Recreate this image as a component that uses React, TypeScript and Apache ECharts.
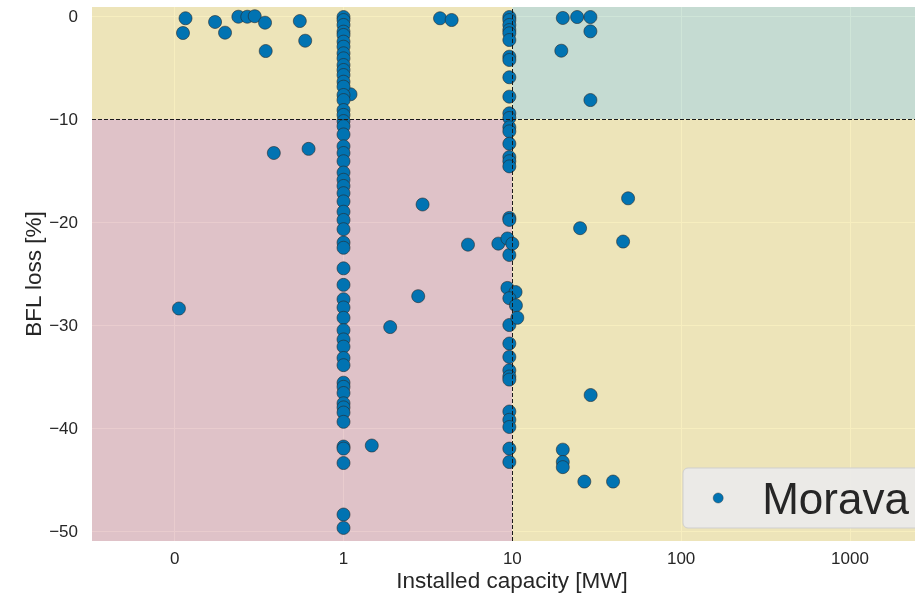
import React, { useEffect, useRef } from "react";
import * as echarts from "echarts";

// ---------- data ----------
const seriesName = "Morava";
const xTickValues = [0, 1, 10, 100, 1000];
const xTickLabels = ["0", "1", "10", "100", "1000"];
const yTickValues = [0, -10, -20, -30, -40, -50];
const capacityThreshold = 10;
const lossThreshold = -10;

// plants outside the two dense columns
const scatteredCapacity = [
  0.064, 0.049, 0.239, 0.298, 0.377, 0.43, 0.474, 0.535, 0.539, 0.741, 0.773,
  3.73, 4.37, 1.1, 19.9, 24.2, 29.0, 29.0, 19.5, 29.0,
  0.587, 0.793, 0.025, 2.94, 5.46, 8.26, 2.77, 1.89, 1.47,
  48.5, 25.2, 45.3, 29.1, 19.9, 19.9, 19.9, 26.7, 39.5,
];
const scatteredLoss = [
  -0.22, -1.65, -0.58, -1.62, -0.07, -0.07, -0.02, -0.65, -3.4, -0.49, -2.4,
  -0.22, -0.39, -7.6, -0.19, -0.1, -0.1, -1.49, -3.37, -8.16,
  -13.3, -12.9, -28.4, -18.3, -22.2, -22.1, -27.2, -30.2, -41.7,
  -17.7, -20.6, -21.9, -36.8, -42.1, -43.3, -43.8, -45.2, -45.2,
];

// plants of 1 MW
const oneMWLoss = [
  -0.1, -0.39, -0.87, -1.52, -1.84, -2.49, -2.98, -3.62, -4.11, -4.76, -5.24,
  -5.73, -6.38, -6.86, -7.67, -8.16, -9.13, -9.6, -10.2, -10.7, -11.5, -12.65,
  -13.3, -14.1, -15.2, -15.9, -16.5, -17.2, -18.0, -19.0, -19.8, -20.7, -22.0,
  -22.5, -24.5, -26.1, -27.5, -28.3, -29.3, -30.5, -31.4, -32.1, -33.2, -33.9,
  -35.6, -36.0, -36.6, -37.6, -38.0, -38.5, -39.4, -41.8, -42.0, -43.4, -48.4,
  -49.7,
];

// plants of about 10 MW
const tenMWCapacity = [
  9.6, 9.6, 9.6, 9.6, 9.6, 9.6, 9.6, 9.6, 9.6, 9.6, 9.6, 9.6, 9.6, 9.6, 9.6,
  9.6, 9.6, 9.6, 9.6, 9.6, 9.6, 9.6, 9.6, 9.6, 9.6, 9.6, 9.6, 9.6, 9.6, 9.6,
  9.6, 9.6, 9.35, 10.0, 9.35, 10.45, 9.6, 10.5, 10.7,
];
const tenMWLoss = [
  -0.1, -0.39, -0.87, -1.36, -1.68, -2.33, -3.95, -4.27, -5.95, -7.83, -9.45,
  -9.9, -10.8, -11.2, -12.4, -13.7, -14.1, -14.6, -19.6, -19.8, -23.2, -30.0,
  -31.8, -33.1, -34.4, -35.0, -35.3, -38.4, -39.2, -39.9, -42.0, -43.3,
  -21.6, -22.1, -26.4, -26.8, -27.4, -28.1, -29.3,
];

// ---------- symlog-like transform (linear 0..1, log10 above) ----------
const sym = (x: number) => (x <= 1 ? x : 1 + Math.log10(x));

const X_MIN = -0.49;
const X_MAX = 4.486;
const Y_MIN = -50.97;
const Y_MAX = 0.874;

const FONT = "'Liberation Sans', Arial, sans-serif";
const TEXT = "#262626";

const fmtNum = (v: number) => (v < 0 ? "\u2212" + Math.abs(v) : String(v));

export default function App() {
  const ref = useRef<HTMLDivElement>(null);
  useEffect(() => {
    if (!ref.current) return;
    const chart = echarts.init(ref.current, null, { renderer: "svg" });

    const points: number[][] = [];
    scatteredCapacity.forEach((c, i) => points.push([sym(c), scatteredLoss[i]]));
    oneMWLoss.forEach((l) => points.push([sym(1), l]));
    tenMWCapacity.forEach((c, i) => points.push([sym(c), tenMWLoss[i]]));

    const xT = sym(capacityThreshold);
    const xCustom = xTickValues.map(sym);

    chart.setOption({
      animation: false,
      textStyle: { fontFamily: FONT },
      grid: {
        left: 92,
        right: 0,
        top: 7,
        bottom: 57,
        outerBoundsMode: "none",
        containLabel: false,
        show: true,
        backgroundColor: "#eaeaf2",
        borderWidth: 0,
      },
      legend: {
        left: 683,
        top: 468,
        data: [{ name: seriesName, icon: "circle" }],
        itemWidth: 10,
        itemHeight: 10,
        itemStyle: { color: "#0173b2", borderColor: "#2a2a2a", borderWidth: 0.4 },
        padding: [8, 40, 8, 30],
        backgroundColor: "rgba(234,234,234,0.92)",
        borderColor: "#cfcfcf",
        borderWidth: 1,
        borderRadius: 5,
        textStyle: {
          fontSize: 44,
          lineHeight: 44,
          color: TEXT,
          fontFamily: FONT,
          padding: [0, 0, 0, 34],
        },
      },
      xAxis: {
        type: "value",
        min: X_MIN,
        max: X_MAX,
        name: "Installed capacity [MW]",
        nameLocation: "middle",
        nameGap: 28,
        nameMoveOverlap: false,
        nameTextStyle: { fontSize: 22.5, color: TEXT, fontFamily: FONT },
        axisLine: { show: false },
        axisTick: { show: false, customValues: xCustom },
        axisLabel: {
          customValues: xCustom,
          fontSize: 17,
          color: TEXT,
          margin: 9,
          formatter: (v: number) => {
            const i = xCustom.findIndex((c) => Math.abs(c - v) < 1e-6);
            return i >= 0 ? xTickLabels[i] : "";
          },
        },
        splitLine: { show: true, lineStyle: { color: "#ffffff", width: 1 } },
      },
      yAxis: {
        type: "value",
        min: Y_MIN,
        max: Y_MAX,
        name: "BFL loss [%]",
        nameLocation: "middle",
        nameGap: 47,
        nameMoveOverlap: false,
        nameTextStyle: { fontSize: 22.5, color: TEXT, fontFamily: FONT },
        axisLine: { show: false },
        axisTick: { show: false, customValues: yTickValues },
        axisLabel: {
          customValues: yTickValues,
          fontSize: 17,
          color: TEXT,
          margin: 14,
          formatter: (v: number) => fmtNum(v),
        },
        splitLine: { show: true, lineStyle: { color: "#ffffff", width: 1 } },
      },
      series: [
        {
          name: seriesName,
          type: "scatter",
          data: points,
          symbolSize: 13,
          itemStyle: {
            color: "#0173b2",
            borderColor: "#2a2a2a",
            borderWidth: 0.6,
            opacity: 1,
          },
          markArea: {
            silent: true,
            z: 1,
            data: [
              [
                { coord: [X_MIN, lossThreshold], itemStyle: { color: "rgba(240,222,128,0.5)" } },
                { coord: [xT, Y_MAX] },
              ],
              [
                { coord: [xT, lossThreshold], itemStyle: { color: "rgba(160,204,178,0.5)" } },
                { coord: [X_MAX, Y_MAX] },
              ],
              [
                { coord: [X_MIN, Y_MIN], itemStyle: { color: "rgba(212,154,158,0.5)" } },
                { coord: [xT, lossThreshold] },
              ],
              [
                { coord: [xT, Y_MIN], itemStyle: { color: "rgba(240,222,128,0.5)" } },
                { coord: [X_MAX, lossThreshold] },
              ],
            ],
          },
          markLine: {
            silent: true,
            symbol: ["none", "none"],
            label: { show: false },
            lineStyle: { color: "#1a1a1a", type: [4, 2], width: 1 },
            data: [{ xAxis: xT }, { yAxis: lossThreshold }],
          },
        },
      ],
    });
    return () => chart.dispose();
  }, []);
  return (
    <div
      ref={ref}
      style={{ position: "fixed", left: 0, top: 0, width: 932, height: 598 }}
    />
  );
}
